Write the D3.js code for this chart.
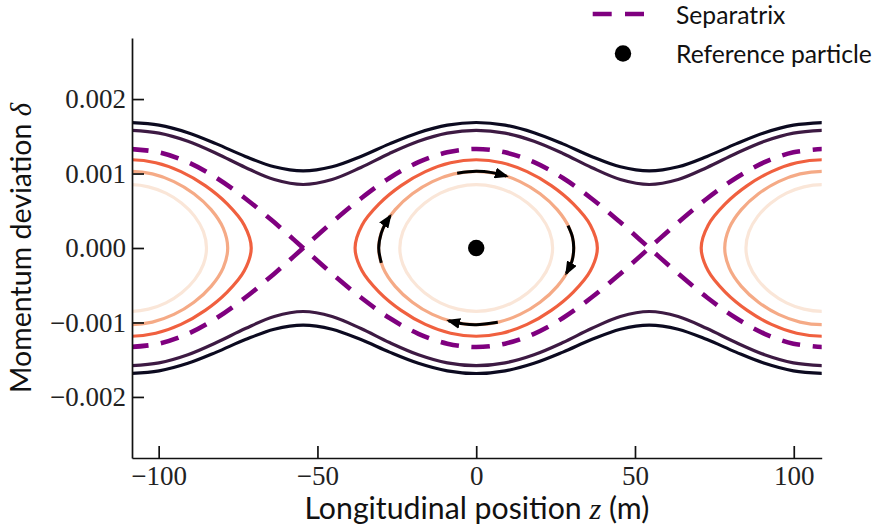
<!DOCTYPE html>
<html>
<head>
<meta charset="utf-8">
<script src="https://cdn.jsdelivr.net/npm/d3@7"></script>
<style>
  body { margin: 0; background: #fff; }
  svg { display: block; }
</style>
</head>
<body>
<svg id="chart" width="887" height="530"></svg>
<script>
// ---- Phase-space data: longitudinal position z (m), momentum deviation δ ----

// Sample positions along z for the open trajectories and the separatrix
const zGrid = [-109.0, -99.9, -90.8, -81.8, -72.7, -63.6, -54.5, -45.4, -36.3, -27.3, -18.2, -9.1, 0,
               9.1, 18.2, 27.3, 36.3, 45.4, 54.5, 63.6, 72.7, 81.8, 90.8, 99.9, 109.0];

// Outermost (unbound) trajectory, upper and lower branches
const outerUpper = [0.001685, 0.0016495, 0.0015482, 0.0013981, 0.0012299, 0.0010903, 0.0010346, 0.0010903, 0.0012299, 0.0013981, 0.0015482, 0.0016495, 0.001685,
                    0.0016495, 0.0015482, 0.0013981, 0.0012299, 0.0010903, 0.0010346, 0.0010903, 0.0012299, 0.0013981, 0.0015482, 0.0016495, 0.001685];
const outerLower = [-0.001685, -0.0016495, -0.0015482, -0.0013981, -0.0012299, -0.0010903, -0.0010346, -0.0010903, -0.0012299, -0.0013981, -0.0015482, -0.0016495, -0.001685,
                    -0.0016495, -0.0015482, -0.0013981, -0.0012299, -0.0010903, -0.0010346, -0.0010903, -0.0012299, -0.0013981, -0.0015482, -0.0016495, -0.001685];

// Second unbound trajectory, just outside the separatrix
const nearUpper = [0.00158, 0.0015421, 0.0014332, 0.0012696, 0.0010815, 0.0009198, 0.0008529, 0.0009198, 0.0010815, 0.0012696, 0.0014332, 0.0015421, 0.00158,
                   0.0015421, 0.0014332, 0.0012696, 0.0010815, 0.0009198, 0.0008529, 0.0009198, 0.0010815, 0.0012696, 0.0014332, 0.0015421, 0.00158];
const nearLower = [-0.00158, -0.0015421, -0.0014332, -0.0012696, -0.0010815, -0.0009198, -0.0008529, -0.0009198, -0.0010815, -0.0012696, -0.0014332, -0.0015421, -0.00158,
                   -0.0015421, -0.0014332, -0.0012696, -0.0010815, -0.0009198, -0.0008529, -0.0009198, -0.0010815, -0.0012696, -0.0014332, -0.0015421, -0.00158];

// Separatrix: two branches crossing at the unstable fixed points
const sepA = [-0.00133, -0.0012847, -0.0011518, -0.0009405, -0.000665, -0.0003442, 0, 0.0003442, 0.000665, 0.0009405, 0.0011518, 0.0012847, 0.00133,
              0.0012847, 0.0011518, 0.0009405, 0.000665, 0.0003442, 0, -0.0003442, -0.000665, -0.0009405, -0.0011518, -0.0012847, -0.00133];
const sepB = [0.00133, 0.0012847, 0.0011518, 0.0009405, 0.000665, 0.0003442, 0, -0.0003442, -0.000665, -0.0009405, -0.0011518, -0.0012847, -0.00133,
              -0.0012847, -0.0011518, -0.0009405, -0.000665, -0.0003442, 0, 0.0003442, 0.000665, 0.0009405, 0.0011518, 0.0012847, 0.00133];

// Closed (bound) orbits, offsets from the bucket centre
const orbit1Z = [0, 8.07, 16.02, 23.65, 30.58, 35.96, 38.15, 35.96, 30.58, 23.65, 16.02, 8.07,
                 0, -8.07, -16.02, -23.65, -30.58, -35.96, -38.15, -35.96, -30.58, -23.65, -16.02, -8.07];
const orbit1D = [0.001185, 0.0011446, 0.0010262, 0.0008379, 0.0005925, 0.0003067, 0, -0.0003067, -0.0005925, -0.0008379, -0.0010262, -0.0011446,
                 -0.001185, -0.0011446, -0.0010262, -0.0008379, -0.0005925, -0.0003067, 0, 0.0003067, 0.0005925, 0.0008379, 0.0010262, 0.0011446];
const orbit2Z = [0, 7.00, 13.80, 20.11, 25.51, 29.32, 30.74, 29.32, 25.51, 20.11, 13.80, 7.00,
                 0, -7.00, -13.80, -20.11, -25.51, -29.32, -30.74, -29.32, -25.51, -20.11, -13.80, -7.00];
const orbit2D = [0.00103, 0.0009949, 0.000892, 0.0007283, 0.000515, 0.0002666, 0, -0.0002666, -0.000515, -0.0007283, -0.000892, -0.0009949,
                 -0.00103, -0.0009949, -0.000892, -0.0007283, -0.000515, -0.0002666, 0, 0.0002666, 0.000515, 0.0007283, 0.000892, 0.0009949];
const orbit3Z = [0, 5.77, 11.29, 16.27, 20.35, 23.09, 24.06, 23.09, 20.35, 16.27, 11.29, 5.77,
                 0, -5.77, -11.29, -16.27, -20.35, -23.09, -24.06, -23.09, -20.35, -16.27, -11.29, -5.77];
const orbit3D = [0.00085, 0.000821, 0.0007361, 0.000601, 0.000425, 0.00022, 0, -0.00022, -0.000425, -0.000601, -0.0007361, -0.000821,
                 -0.00085, -0.000821, -0.0007361, -0.000601, -0.000425, -0.00022, 0, 0.00022, 0.000425, 0.000601, 0.0007361, 0.000821];

// Bucket centres along z (m)
const bucketCentres = [-109, 0, 109];

// Motion arrows on the middle bound orbit (central bucket)
const arrowTopZ = [-6.0, 0, 5.0, 9.5];
const arrowTopD = [0.001004, 0.00103, 0.001012, 0.000965];
const arrowRightZ = [28.9, 30.3, 30.7, 30.2, 28.4];
const arrowRightD = [0.0003, 0.00015, 0, -0.00017, -0.00034];
const arrowBottomZ = [6.8, 0, -4.0, -8.7];
const arrowBottomD = [-0.000997, -0.00103, -0.001019, -0.000976];
const arrowLeftZ = [-29.9, -30.7, -29.9, -28.7, -27.1];
const arrowLeftD = [-0.0002, 0, 0.0002, 0.00032, 0.00043];

// Reference particle
const refZ = [0];
const refD = [0];

// Axis ticks
const xTicks = [-100, -50, 0, 50, 100];
const yTicks = [-0.002, -0.001, 0, 0.001, 0.002];

// ---- Drawing ----
const svg = d3.select("#chart");
const plotLeft = 132, plotRight = 821.7, plotTop = 38, plotBottom = 458;

const x = d3.scaleLinear().domain([-108.4, 108.8]).range([plotLeft, plotRight]);
const y = d3.scaleLinear().domain([-0.00282, 0.00282]).range([plotBottom, plotTop]);

const colours = {
  outer: "#0c0a20",
  near: "#3d1a43",
  sep: "#7f007f",
  orbit1: "#f0603f",
  orbit2: "#f5aa86",
  orbit3: "#fae6d8"
};

const defs = svg.append("defs");
defs.append("clipPath").attr("id", "plotArea")
  .append("rect").attr("x", plotLeft).attr("y", plotTop)
  .attr("width", plotRight - plotLeft).attr("height", plotBottom - plotTop);

defs.append("marker")
  .attr("id", "head")
  .attr("viewBox", "0 0 14 11")
  .attr("refX", 11.5).attr("refY", 5.5)
  .attr("markerWidth", 14).attr("markerHeight", 11)
  .attr("markerUnits", "userSpaceOnUse")
  .attr("orient", "auto")
  .append("path").attr("d", "M0,0 L14,5.5 L0,11 Z").attr("fill", "#000");

const plot = svg.append("g").attr("clip-path", "url(#plotArea)");

const openLine = d3.line().x(d => x(d[0])).y(d => y(d[1])).curve(d3.curveCatmullRom);
const closedLine = d3.line().x(d => x(d[0])).y(d => y(d[1])).curve(d3.curveCatmullRomClosed);

function pairs(zs, ds, offset = 0) { return zs.map((z, i) => [z + offset, ds[i]]); }

// Unbound trajectories
[[outerUpper, colours.outer], [outerLower, colours.outer],
 [nearUpper, colours.near], [nearLower, colours.near]].forEach(([ds, c]) => {
  plot.append("path").attr("d", openLine(pairs(zGrid, ds)))
    .attr("fill", "none").attr("stroke", c).attr("stroke-width", 3.2);
});

// Bound orbits in each bucket
bucketCentres.forEach(c0 => {
  [[orbit1Z, orbit1D, colours.orbit1], [orbit2Z, orbit2D, colours.orbit2], [orbit3Z, orbit3D, colours.orbit3]]
    .forEach(([zs, ds, c]) => {
      plot.append("path").attr("d", closedLine(pairs(zs, ds, c0)))
        .attr("fill", "none").attr("stroke", c).attr("stroke-width", 3.2);
    });
});

// Separatrix
[sepA, sepB].forEach(ds => {
  plot.append("path").attr("d", openLine(pairs(zGrid, ds)))
    .attr("fill", "none").attr("stroke", colours.sep).attr("stroke-width", 4.6)
    .attr("stroke-dasharray", "18.5,12.5");
});

// Direction of motion arrows
[[arrowTopZ, arrowTopD], [arrowRightZ, arrowRightD], [arrowBottomZ, arrowBottomD], [arrowLeftZ, arrowLeftD]]
  .forEach(([zs, ds]) => {
    svg.append("path").attr("d", openLine(pairs(zs, ds)))
      .attr("fill", "none").attr("stroke", "#000").attr("stroke-width", 3)
      .attr("marker-end", "url(#head)");
  });

// Reference particle
svg.selectAll("circle.ref").data(refZ).join("circle").attr("class", "ref")
  .attr("cx", d => x(d)).attr("cy", (d, i) => y(refD[i])).attr("r", 8.2).attr("fill", "#000");

// Axes
const tickFont = "'Liberation Serif', 'DejaVu Serif', serif";
const sansFont = "Lato, 'Open Sans', sans-serif";

const yAxis = svg.append("g").attr("transform", `translate(${plotLeft},0)`)
  .call(d3.axisLeft(y).tickValues(yTicks).tickFormat(d3.format(".3f"))
        .tickSizeInner(-12).tickSizeOuter(0).tickPadding(6));
const xAxis = svg.append("g").attr("transform", `translate(0,${plotBottom})`)
  .call(d3.axisBottom(x).tickValues(xTicks).tickFormat(d3.format("d"))
        .tickSizeInner(-12).tickSizeOuter(0).tickPadding(8));

[yAxis, xAxis].forEach(ax => {
  ax.select(".domain").attr("stroke", "#111").attr("stroke-width", 1.7);
  ax.selectAll(".tick line").attr("stroke", "#111").attr("stroke-width", 1.7);
  ax.selectAll(".tick text").attr("fill", "#222")
    .style("font-family", tickFont).style("font-size", "27px");
});

// Scale a text's font size so that it spans the wanted width
function fitWidth(sel, width) {
  const base = parseFloat(sel.style("font-size"));
  const w = sel.node().getComputedTextLength();
  sel.style("font-size", (base * width / w).toFixed(2) + "px");
}

// Axis titles
const xl = svg.append("text").attr("x", (plotLeft + plotRight) / 2).attr("y", 519)
  .attr("text-anchor", "middle").attr("fill", "#111")
  .style("font-family", sansFont).style("font-size", "29px");
xl.append("tspan").text("Longitudinal position ");
xl.append("tspan").text("z").style("font-family", tickFont).style("font-style", "italic");
xl.append("tspan").text(" (m)");
fitWidth(xl, 345);

const yl = svg.append("text").attr("transform", `translate(31,${(plotTop + plotBottom) / 2}) rotate(-90)`)
  .attr("text-anchor", "middle").attr("fill", "#111")
  .style("font-family", sansFont).style("font-size", "29px");
yl.append("tspan").text("Momentum deviation ");
yl.append("tspan").text("δ").style("font-family", tickFont).style("font-style", "italic");
fitWidth(yl, 290);

// Legend
const legend = svg.append("g");
legend.append("line").attr("x1", 592.7).attr("x2", 645).attr("y1", 14).attr("y2", 14)
  .attr("stroke", colours.sep).attr("stroke-width", 4.6).attr("stroke-dasharray", "19,13.3");
legend.append("circle").attr("cx", 623).attr("cy", 53.5).attr("r", 8.2).attr("fill", "#000");
const lg1 = legend.append("text").attr("x", 676).attr("y", 23.5).text("Separatrix")
  .attr("fill", "#111").style("font-family", sansFont).style("font-size", "27px");
const lg2 = legend.append("text").attr("x", 676).attr("y", 63).text("Reference particle")
  .attr("fill", "#111").style("font-family", sansFont).style("font-size", "27px");
fitWidth(lg2, 196);
lg1.style("font-size", lg2.style("font-size"));
</script>
</body>
</html>
